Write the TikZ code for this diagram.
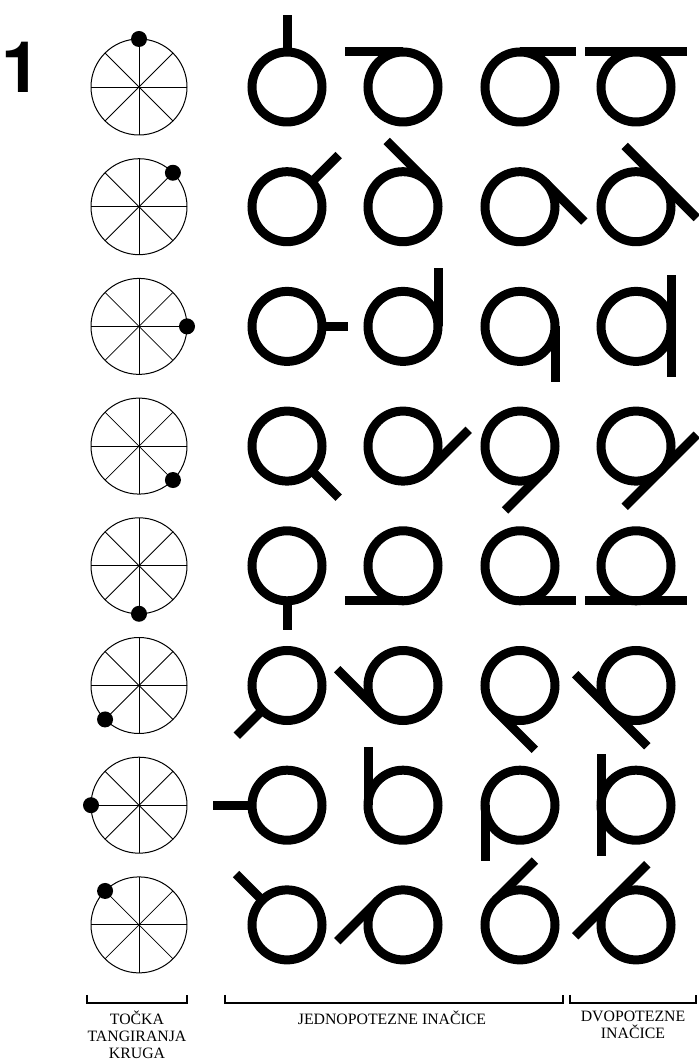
\documentclass[tikz,border=0pt]{standalone}
\usepackage{fontspec}
\setmainfont{Liberation Serif}
\newfontfamily\numfont{TeX Gyre Heros}
\usetikzlibrary{calc}
\tikzset{
  wheel/.style = {draw, line width=1pt},
  spoke/.style = {line width=0.8pt},
  tdot/.style = {circle, fill=black, inner sep=0pt, minimum size=16pt},
  ring/.style = {draw, line width=9pt},
  tail/.style = {line width=9pt, line cap=butt},
  bracket/.style = {line width=1.2pt},
  caption/.style = {align=center, inner sep=0pt, anchor=north, font=\fontsize{15.8}{16.8}\selectfont}
}

\begin{document}
\begin{tikzpicture}[x=1pt,y=1pt]
\useasboundingbox (0,0) rectangle (699,1061);

\node[font=\numfont\bfseries\fontsize{71}{71}\selectfont] (num) at (21,994) {1};

% row / tangent angle / left tail / right tail / stem length
\foreach \row/\ang/\lft/\rgt/\stem in {1/90/180/0/72, 2/45/135/-45/73, 3/0/90/-90/61, 4/-45/45/-135/73,
                                       5/-90/180/0/64, 6/-135/135/-45/71, 7/180/90/-90/74, 8/135/-135/45/72} {
  \pgfmathsetmacro{\y}{974-119.7*(\row-1)}
  % wheel with the point of tangency
  \coordinate (w\row) at (139,\y);
  \draw[wheel] (w\row) circle (48pt);
  \foreach \spk in {0,45,...,315} \draw[spoke] (w\row) -- ([shift={(\spk:48pt)}]w\row);
  \node[tdot] (d\row) at ([shift={(\ang:48pt)}]w\row) {};
  % rings
  \foreach \col/\x in {1/287,2/403,3/520,4/636} {
    \coordinate (r\row c\col) at (\x,\y);
    \draw[ring] (r\row c\col) circle (35pt);
  }
  % tails
  \draw[tail] ([shift={(\ang:35pt)}]r\row c1) -- ([shift={(\ang:\stem pt)}]r\row c1);
  \draw[tail] ([shift={(\ang:35pt)}]r\row c2) -- +(\lft:58pt);
  \draw[tail] ([shift={(\ang:35pt)}]r\row c3) -- +(\rgt:56pt);
  \draw[tail] ([shift={(\ang:35pt)}]r\row c4) +(\lft:51pt) -- +(\rgt:51pt);
}

% brackets and captions
\draw[bracket] (87,66) -- (87,58) -- (187,58) -- (187,66);
\draw[bracket] (225,66) -- (225,58) -- (563,58) -- (563,66);
\draw[bracket] (570,66) -- (570,58) -- (696,58) -- (696,66);
\node[caption] (tocka) at (137,50) {TOČKA\\TANGIRANJA\\KRUGA};
\node[caption] (jedno) at (392,50) {JEDNOPOTEZNE INAČICE};
\node[caption] (dvo) at (633,50) {DVOPOTEZNE\\INAČICE};
\end{tikzpicture}
\end{document}
